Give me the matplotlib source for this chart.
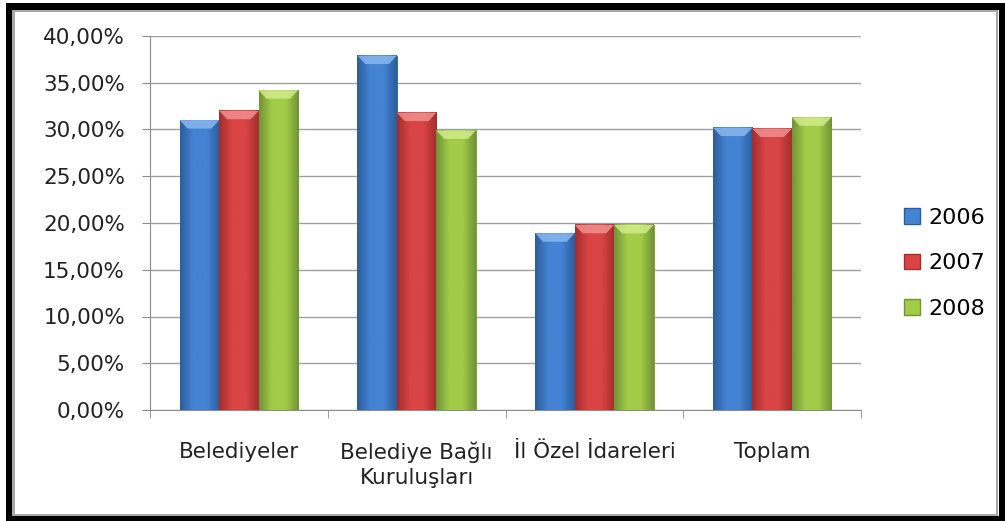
import numpy as np
import matplotlib.pyplot as plt
from matplotlib.patches import Rectangle, Polygon
from matplotlib.colors import LinearSegmentedColormap
from matplotlib.ticker import FuncFormatter, MultipleLocator

plt.rcParams['font.family'] = ['DejaVu Sans']

# values (percent)
categories = ['Belediyeler', 'Belediye Bağlı\nKuruluşları', 'İl Özel İdareleri', 'Toplam']
years = ['2006', '2007', '2008']
v2006 = [31.0, 37.9, 18.9, 30.2]
v2007 = [32.0, 31.8, 19.8, 30.1]
v2008 = [34.2, 29.9, 19.8, 31.3]
series = [v2006, v2007, v2008]

# (dark edge, mid, light top)
palette = [('#2c5d9c', '#4483d3', '#8ab8f0'),
           ('#a32e2e', '#d94444', '#f09090'),
           ('#729436', '#a2cc48', '#d2ec8a')]

W, H = 1005, 521
fig = plt.figure(figsize=(W / 100, H / 100), dpi=100)
ax = fig.add_axes([150 / W, 111 / H, 711 / W, 374 / H])

x = np.arange(len(categories))
w = 0.222
for i, vals in enumerate(series):
    dark, mid, light = palette[i]
    cmap = LinearSegmentedColormap.from_list('g', [dark, mid, mid, dark])
    grad = np.linspace(0, 1, 64).reshape(1, -1)
    pos = x + (i - 1) * w
    bars = ax.bar(pos, vals, w, color=mid, edgecolor=dark, linewidth=0.6, zorder=3)
    for b, v in zip(bars, vals):
        x0 = b.get_x()
        x1 = x0 + b.get_width()
        ax.imshow(grad, cmap=cmap, extent=(x0, x1, 0, v), aspect='auto', zorder=3.1,
                  interpolation='bilinear')
        bev = 0.9
        inset = b.get_width() * 0.2
        ax.add_patch(Polygon([(x0, v), (x1, v), (x1 - inset, v - bev), (x0 + inset, v - bev)],
                             closed=True, facecolor=light, edgecolor='none', alpha=0.85, zorder=3.2))

ax.set_xlim(-0.5, len(categories) - 0.5)
ax.set_ylim(0, 40)
ax.yaxis.set_major_locator(MultipleLocator(5))
ax.yaxis.set_major_formatter(FuncFormatter(lambda v, p: f'{v:.2f}%'.replace('.', ',')))
ax.grid(axis='y', color='#a0a0a0', linewidth=1.0, zorder=0)
ax.set_axisbelow(True)

ax.set_xticks(x)
ax.set_xticklabels(categories, fontsize=15.5, color='#222222', linespacing=1.3)
ax.set_xticks(np.arange(-0.5, len(categories)), minor=True)
ax.tick_params(axis='x', which='major', length=0, pad=23)
ax.tick_params(axis='x', which='minor', length=6, color='#8c8c8c', direction='out')
ax.tick_params(axis='y', length=6, color='#8c8c8c', direction='out', pad=12,
               labelsize=15.5, labelcolor='#222222')

for s in ['top', 'right']:
    ax.spines[s].set_visible(False)
ax.spines['left'].set_color('#8c8c8c')
ax.spines['bottom'].set_color('#8c8c8c')

# legend
handles = [Rectangle((0, 0), 1, 1, facecolor=palette[i][1], edgecolor=palette[i][0])
           for i in range(3)]
fig.legend(handles, years, loc='center left', bbox_to_anchor=(0.88, 0.495),
           frameon=False, fontsize=16, handlelength=0.7, handleheight=0.7,
           handletextpad=0.4, labelspacing=1.15)

# outer borders (pixel boxes: x, y-from-top, width, height)
def px_box(x0, y0, bw, bh, color):
    fig.patches.append(Rectangle((x0 / W, 1 - (y0 + bh) / H), bw / W, bh / H,
                                 transform=fig.transFigure, facecolor=color,
                                 edgecolor='none', zorder=10))

px_box(12, 10, 986, 2, '#a8a8a8')
px_box(12, 10, 3, 506, '#a8a8a8')
px_box(996, 10, 2, 506, '#a8a8a8')
px_box(12, 514, 986, 2, '#a8a8a8')
px_box(6, 3, 999, 7, 'black')
px_box(6, 3, 6, 518, 'black')
px_box(999, 3, 6, 518, 'black')
px_box(6, 516, 999, 5, 'black')

fig.savefig('out.png', dpi=100)
